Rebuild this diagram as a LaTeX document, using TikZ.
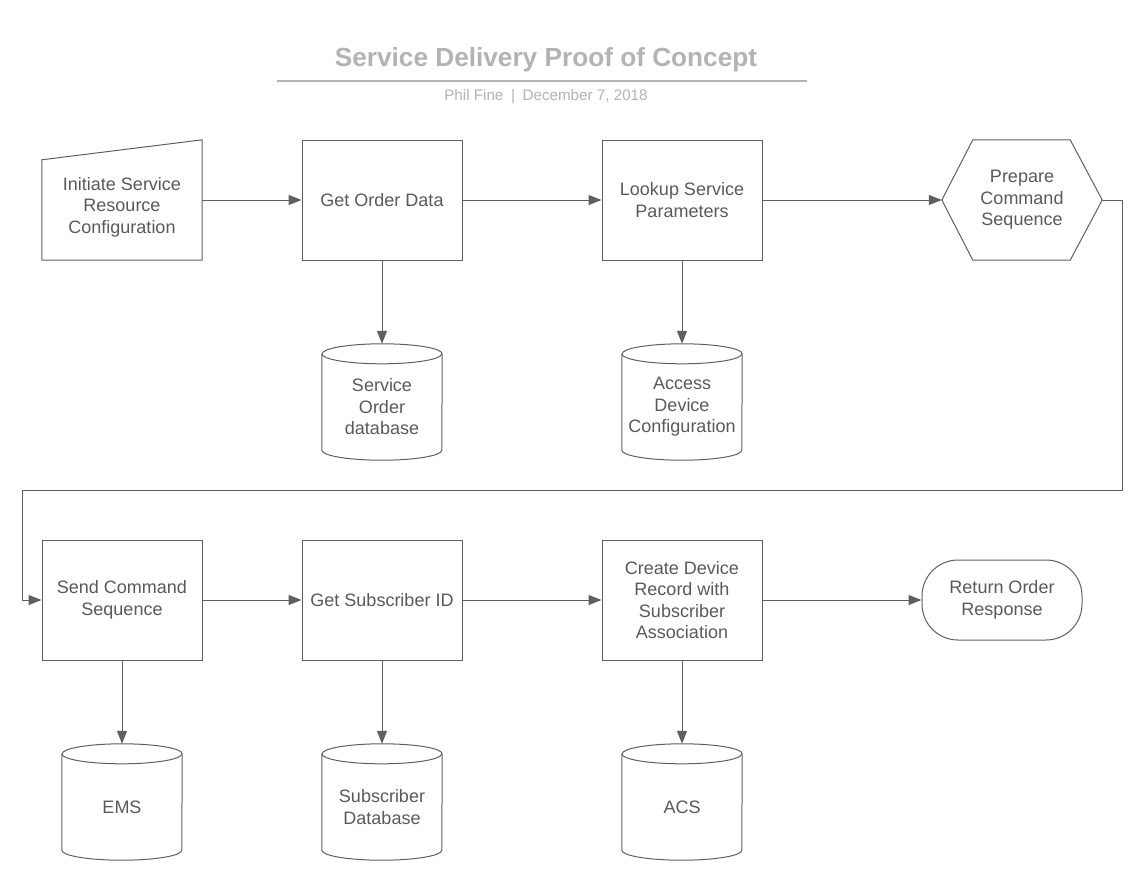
\documentclass[tikz,border=0pt]{standalone}
\usepackage{fontspec}
\setmainfont{Liberation Sans}
\usetikzlibrary{arrows.meta,positioning}

\definecolor{linegray}{HTML}{5F5F5F}
\definecolor{textgray}{HTML}{595959}
\definecolor{titlegray}{HTML}{B3B3B3}

% cylinder outline around a db node
\newcommand{\drawdb}[1]{%
  \draw[draw=linegray, line width=1pt] (#1.north west) -- ([yshift=10pt]#1.south west)
    arc[start angle=180, end angle=360, x radius=60pt, y radius=10pt]
    -- (#1.north east)
    arc[start angle=0, end angle=180, x radius=60pt, y radius=10pt];
  \draw[draw=linegray, line width=1pt] (#1.north west)
    arc[start angle=180, end angle=360, x radius=60pt, y radius=10pt];}

\begin{document}
\begin{tikzpicture}[x=1pt,y=-1pt,>={Triangle[length=13pt,width=10pt]},
    every node/.style={font=\fontsize{18}{21.5}\selectfont, text=textgray, align=center},
    box/.style={draw=linegray, line width=1pt, minimum width=160pt, minimum height=120pt, inner sep=0pt},
    shell/.style={minimum width=160pt, minimum height=120pt, inner sep=0pt},
    db/.style={minimum width=120pt, minimum height=106pt, inner sep=0pt},
    flow/.style={->, draw=linegray, line width=1pt}]
    \useasboundingbox (0,0) rectangle (1145,871);
    % Title
    \node[font=\bfseries\fontsize{26.2}{30}\selectfont, text=titlegray] (title) at (546,60) {Service Delivery Proof of Concept};
    \draw[titlegray, line width=2pt] (277,81) -- (807,81);
    \node[font=\fontsize{15.2}{18}\selectfont, text=titlegray] (byline) at (546,97) {Phil Fine\enspace|\enspace December 7, 2018};
    % Nodes, first row
    \node[shell] (init) at (122,200) {};
    \node (initlbl) at (122,207) {Initiate Service\\Resource\\Configuration};
    \node[box] (getorder) at (382,200) {Get Order Data};
    \node[box] (lookup) at (682,200) {Lookup Service\\Parameters};
    \node[shell] (prepare) at (1022,200) {Prepare\\Command\\Sequence};
    \node[db] (sodb) at (382,407) {Service\\Order\\database};
    \node[db] (accdb) at (682,407) {Access\\Device\\Configuration};
    % Nodes, second row
    \node[box] (sendcmd) at (122,600) {Send Command\\Sequence};
    \node[box] (getsub) at (382,600) {Get Subscriber ID};
    \node[box] (devrec) at (682,600) {Create Device\\Record with\\Subscriber\\Association};
    \node[box, minimum height=80pt, rounded corners=36pt] (response) at (1002,600) {Return Order\\Response};
    \node[db] (ems) at (122,807) {EMS};
    \node[db] (subdb) at (382,807) {Subscriber\\Database};
    \node[db] (acs) at (682,807) {ACS};
    % Shapes
    \draw[draw=linegray, line width=1pt] ([yshift=-20pt]init.north west) -- (init.north east) -- (init.south east) -- (init.south west) -- cycle;
    \draw[draw=linegray, line width=1pt] (prepare.west) -- ([xshift=31pt]prepare.north west) -- ([xshift=-32pt]prepare.north east)
        -- (prepare.east) -- ([xshift=-32pt]prepare.south east) -- ([xshift=31pt]prepare.south west) -- cycle;
    \drawdb{sodb}
    \drawdb{accdb}
    \drawdb{ems}
    \drawdb{subdb}
    \drawdb{acs}
    % Edges
    \coordinate (bend) at (22,490);
    \draw[flow] (init.east) -- (getorder.west);
    \draw[flow] (getorder) -- (lookup);
    \draw[flow] (lookup) -- (prepare);
    \draw[flow] (getorder.south) -- ([yshift=10pt]sodb.north);
    \draw[flow] (lookup.south) -- ([yshift=10pt]accdb.north);
    \draw[flow] (prepare.east) -- ++(20,0) |- (bend) |- (sendcmd.west);
    \draw[flow] (sendcmd) -- (getsub);
    \draw[flow] (getsub) -- (devrec);
    \draw[flow] (devrec) -- (response);
    \draw[flow] (sendcmd.south) -- ([yshift=10pt]ems.north);
    \draw[flow] (getsub.south) -- ([yshift=10pt]subdb.north);
    \draw[flow] (devrec.south) -- ([yshift=10pt]acs.north);
\end{tikzpicture}
\end{document}
